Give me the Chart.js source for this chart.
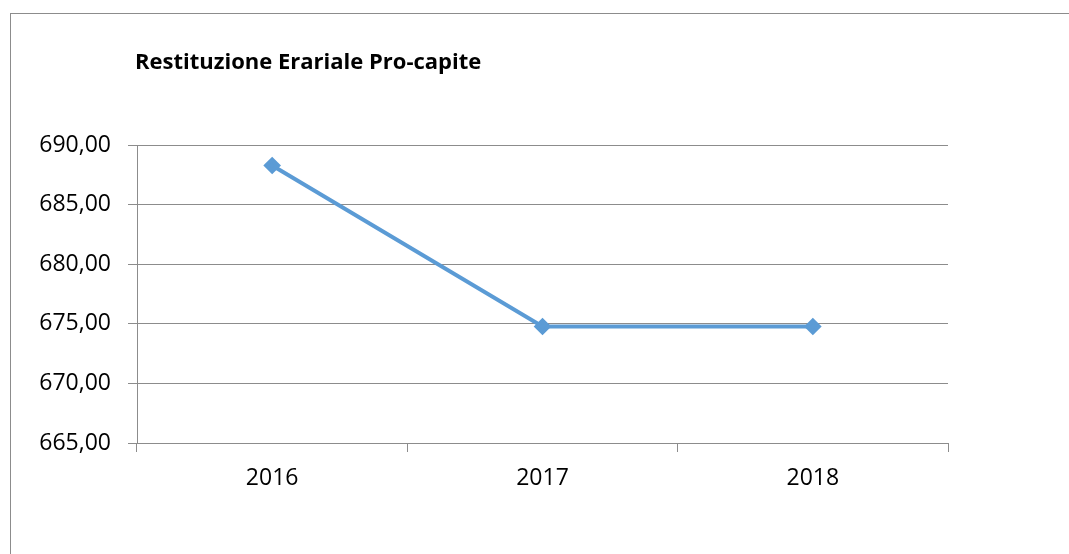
<!DOCTYPE html>
<html>
<head>
<meta charset="utf-8">
<script src="https://cdn.jsdelivr.net/npm/chart.js@4/dist/chart.umd.min.js"></script>
<style>
  html, body { margin: 0; padding: 0; background: #fff; }
  #frame {
    position: absolute; left: 10px; top: 13px; right: 0; bottom: 0;
    border-top: 1px solid #8c8c8c; border-left: 1px solid #8c8c8c;
  }
  #wrap { position: absolute; left: 0; top: 0; width: 1069px; height: 554px; }
</style>
</head>
<body>
<div id="frame"></div>
<div id="wrap"><canvas id="chart"></canvas></div>
<script>
// Dati
const anni = ['2016', '2017', '2018'];
const valori = [688.28, 674.77, 674.77];
const titolo = 'Restituzione Erariale Pro-capite';

const FONT = '"Open Sans", sans-serif';

// Titolo disegnato a sinistra, allineato all'area del grafico
const titlePlugin = {
    id: 'leftTitle',
    afterDraw(chart) {
        const ctx = chart.ctx;
        ctx.save();
        ctx.font = 'bold 22px ' + FONT;
        ctx.fillStyle = '#000';
        ctx.textBaseline = 'middle';
        ctx.fillText(titolo, chart.chartArea.left - 2, 63);
        ctx.restore();
    }
};

const ctx = document.getElementById('chart').getContext('2d');
new Chart(ctx, {
    type: 'line',
    data: {
        labels: anni,
        datasets: [{
            data: valori,
            borderColor: '#5B9BD5',
            backgroundColor: '#5B9BD5',
            borderWidth: 4,
            pointStyle: 'rectRot',
            pointRadius: 6,
            pointHoverRadius: 6,
            tension: 0
        }]
    },
    options: {
        responsive: true,
        maintainAspectRatio: false,
        animation: false,
        layout: { padding: { top: 145, right: 121, left: 0, bottom: 0 } },
        plugins: {
            legend: { display: false },
            tooltip: { enabled: false },
            title: { display: false }
        },
        scales: {
            y: {
                min: 665,
                max: 690,
                afterFit: s => { s.width = 137; },
                ticks: {
                    stepSize: 5,
                    color: '#000',
                    font: { family: FONT, size: 23 },
                    padding: 17,
                    callback: v => v.toFixed(2).replace('.', ',')
                },
                grid: { color: '#8c8c8c', lineWidth: 1, tickLength: 9 },
                border: { color: '#8c8c8c' }
            },
            x: {
                offset: true,
                afterFit: s => { s.height = 111; },
                ticks: {
                    color: '#000',
                    font: { family: FONT, size: 23 },
                    padding: 13
                },
                grid: {
                    offset: true,
                    drawOnChartArea: false,
                    color: '#8c8c8c',
                    tickLength: 9
                },
                border: { color: '#8c8c8c' }
            }
        }
    },
    plugins: [titlePlugin]
});
</script>
</body>
</html>
